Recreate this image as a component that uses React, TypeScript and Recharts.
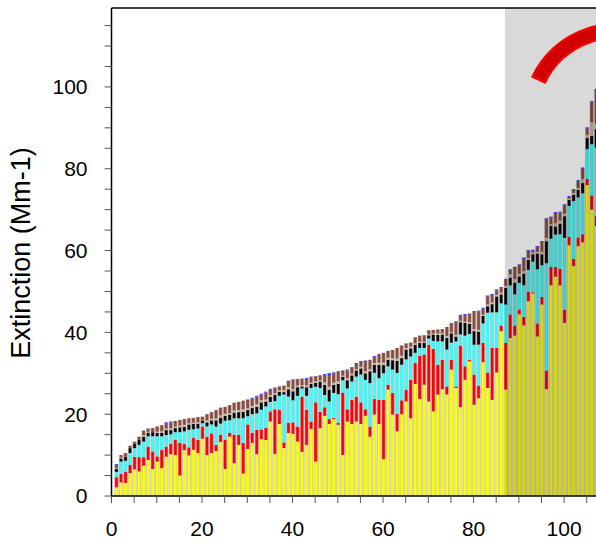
import React from 'react';
import { BarChart, Bar, XAxis, YAxis, ReferenceArea, ReferenceLine } from 'recharts';

// stacked extinction components per sample (Mm-1)
const yellowPart = [
  2.1, 3.3, 3.2, 5.6, 6.5, 6.0, 7.4, 8.8, 6.6, 8.4, 6.8, 9.6, 10.2, 10.0, 5.0, 11.2, 9.9, 11.3, 10.5, 14.0,
  10.0, 10.5, 11.0, 13.2, 6.6, 14.5, 8.0, 12.5, 5.5, 11.5, 13.0, 10.2, 13.9, 13.7, 18.2, 10.3, 17.6, 11.7, 15.4, 15.2,
  13.3, 10.8, 12.5, 16.4, 8.4, 16.6, 19.6, 17.6, 18.8, 17.4, 10.0, 18.2, 17.6, 18.2, 17.6, 19.6, 14.5, 19.9, 17.6, 9.0,
  26.0, 19.9, 15.8, 20.0, 23.1, 19.0, 27.4, 23.7, 27.2, 23.1, 20.7, 24.8, 26.1, 24.8, 30.9, 26.4, 21.7, 28.4, 32.9, 22.3,
  23.9, 32.7, 26.4, 23.5, 30.2, 40.3, 26.0, 38.6, 39.2, 44.4, 41.7, 47.6, 49.5, 39.0, 46.8, 26.1, 51.5, 53.6, 51.5, 42.3,
  61.3, 56.2, 61.1, 62.0, 76.0, 70.0, 66.0,
];
const redPart = [
  2.5, 2.1, 2.8, 2.0, 3.1, 3.5, 2.1, 3.3, 4.3, 1.3, 4.5, 2.5, 2.6, 3.8, 8.0, 1.5, 2.0, 3.0, 3.2, 3.0,
  4.5, 4.8, 1.5, 1.8, 7.2, 1.0, 7.0, 2.5, 7.5, 6.0, 2.5, 6.0, 2.4, 3.0, 2.5, 10.9, 3.5, 1.4, 2.5, 2.8,
  3.7, 13.5, 8.6, 1.8, 14.5, 4.0, 2.1, 1.2, 0.3, 0.5, 15.3, 3.0, 5.9, 6.1, 5.3, 1.6, 2.5, 3.8, 5.9, 14.5,
  1.2, 5.3, 4.3, 3.4, 2.9, 9.4, 5.1, 10.6, 7.4, 13.9, 15.3, 7.3, 7.2, 2.0, 2.4, 0.4, 15.1, 3.3, 0.4, 7.4,
  3.1, 4.7, 3.8, 12.7, 6.0, 1.4, 11.4, 5.8, 2.5, 1.2, 2.1, 2.4, 0.3, 3.2, 1.9, 4.6, 4.5, 2.4, 4.0, 3.3,
  2.1, 1.8, 2.1, 2.0, 1.5, 3.5, 2.5,
];
const cyanPart = [
  1.3, 3.0, 2.6, 2.9, 2.1, 3.0, 3.8, 2.5, 3.7, 4.9, 3.3, 2.8, 2.3, 1.8, 2.6, 3.1, 4.3, 2.0, 2.8, 0.8,
  2.5, 2.2, 4.5, 2.7, 4.6, 3.0, 4.0, 4.0, 6.0, 2.0, 4.5, 4.0, 4.8, 5.2, 2.3, 2.0, 3.4, 11.7, 6.4, 5.4,
  7.5, 2.0, 3.4, 8.2, 3.8, 5.8, 3.0, 4.3, 6.1, 7.0, 3.0, 5.1, 4.5, 4.9, 6.8, 7.2, 10.6, 6.4, 5.3, 6.5,
  4.5, 5.7, 10.0, 8.7, 7.4, 5.7, 2.5, 1.9, 1.6, 1.5, 1.9, 5.7, 4.5, 9.0, 4.2, 11.0, 2.7, 7.5, 6.3, 7.3,
  10.0, 4.8, 14.6, 8.7, 8.7, 5.4, 9.4, 7.1, 7.6, 6.5, 7.7, 5.3, 7.5, 13.2, 7.7, 26.2, 6.9, 7.9, 8.5, 17.5,
  7.5, 14.1, 9.8, 10.0, 7.3, 12.5, 16.7,
];
const blackPart = [
  0.7, 0.8, 1.0, 1.2, 1.1, 1.2, 1.2, 0.9, 1.0, 0.8, 0.9, 1.2, 1.0, 1.0, 1.2, 1.1, 1.3, 1.3, 1.2, 0.6,
  1.0, 1.0, 1.5, 1.5, 1.2, 1.3, 1.4, 1.5, 1.6, 1.5, 1.5, 1.6, 1.8, 1.2, 1.2, 1.5, 1.0, 0.6, 1.8, 2.2,
  2.1, 0.5, 2.1, 1.0, 1.0, 1.5, 2.5, 2.9, 2.0, 2.5, 0.8, 2.0, 1.5, 1.5, 1.5, 1.6, 2.9, 2.0, 3.3, 2.0,
  1.6, 2.3, 2.9, 1.6, 2.4, 2.0, 2.0, 1.2, 1.2, 0.8, 1.6, 1.6, 1.7, 2.9, 2.3, 1.2, 3.0, 3.1, 2.5, 3.3,
  3.2, 1.8, 1.6, 2.0, 3.9, 2.2, 4.1, 1.9, 2.9, 1.6, 2.9, 2.4, 1.8, 3.9, 2.7, 5.4, 3.1, 2.0, 2.6, 5.3,
  1.5, 1.5, 1.8, 2.5, 2.7, 2.0, 4.5,
];
const tanPart = [
  0.2, 0.2, 0, 0, 0, 0, 0.3, 0.2, 0, 0.3, 0.3, 0.4, 0.4, 0.4, 0.4, 0.5, 0.3, 0.3, 0.3, 0,
  0.5, 0.4, 0.5, 0.5, 0.5, 0.4, 0.5, 0.5, 0.6, 0.5, 0.5, 0.6, 0.5, 0.5, 0.5, 0.4, 0.3, 0.5, 0.5, 0.5,
  0.4, 0.3, 0.4, 0.3, 0.3, 0.3, 0.6, 0.7, 0.5, 0.6, 0.3, 0.5, 0.4, 0.3, 0.4, 0.5, 0.5, 0.4, 0.5, 0.6,
  0.5, 0.5, 0.6, 0.6, 0.4, 0.4, 0.3, 0.3, 0.3, 0.2, 0.2, 0.3, 0.3, 0.4, 0.3, 0.4, 0.3, 0.3, 0.4, 0.5,
  0.4, 0.3, 0.4, 0.4, 0.4, 0.4, 0.5, 0.8, 0.8, 0.6, 0.6, 0.5, 0.4, 0.4, 0.6, 0.8, 0.4, 0.8, 0.7, 0.6,
  0.3, 0.5, 0.5, 1.0, 0.8, 3.3, 1.3,
];
const brownPart = [
  0.8, 0.6, 0.9, 0.6, 0.5, 0.8, 1.2, 0.8, 1.0, 1.3, 1.5, 1.3, 1.5, 1.1, 1.4, 1.4, 1.2, 1.2, 1.3, 1.0,
  1.5, 1.6, 2.0, 1.9, 1.7, 2.0, 1.9, 2.0, 2.1, 2.1, 1.8, 1.9, 1.4, 1.7, 1.3, 1.2, 1.0, 1.1, 1.6, 2.2,
  1.6, 1.6, 1.6, 1.5, 1.3, 1.3, 1.8, 2.9, 2.3, 2.5, 1.3, 1.9, 1.6, 1.3, 1.2, 2.3, 2.3, 1.5, 2.1, 2.4,
  1.7, 2.0, 2.6, 2.5, 1.1, 1.0, 1.5, 1.5, 1.6, 1.0, 0.9, 1.0, 1.0, 2.0, 2.2, 3.1, 1.3, 1.7, 2.1, 4.2,
  4.5, 1.5, 2.0, 1.9, 1.1, 1.2, 1.5, 1.0, 2.7, 2.0, 3.0, 1.7, 0.5, 1.2, 2.4, 4.5, 1.7, 2.5, 2.0, 2.1,
  0.4, 0.7, 1.7, 2.5, 1.5, 4.9, 8.1,
];
const bluePart = [
  0.2, 0, 0, 0, 0, 0, 0, 0, 0, 0, 0, 0.2, 0.2, 0.2, 0, 0, 0, 0, 0, 0,
  0, 0, 0, 0, 0, 0, 0, 0, 0, 0, 0.2, 0.2, 0.2, 0.2, 0.2, 0.2, 0, 0, 0, 0.2,
  0, 0, 0.2, 0, 0, 0, 0.2, 0.4, 0.2, 0, 0, 0.2, 0, 0.2, 0.2, 0.3, 0, 0.2, 0, 0,
  0, 0, 0, 0, 0, 0, 0, 0, 0, 0, 0, 0, 0, 0.2, 0, 0.2, 0.2, 0.2, 0, 0.2,
  0.2, 0.2, 0.2, 0.2, 0.2, 0.2, 0.2, 0.2, 0.3, 0.3, 0.3, 0.2, 0.2, 0.2, 0.2, 0.3, 0.2, 0.2, 0.2, 0.2,
  0.2, 0.2, 0.2, 0.3, 0.3, 0.3, 0.4,
];

const xTicks = [0, 5, 10, 15, 20, 25, 30, 35, 40, 45, 50, 55, 60, 65, 70, 75, 80, 85, 90, 95, 100, 105, 110];
const yTicks = [0, 5, 10, 15, 20, 25, 30, 35, 40, 45, 50, 55, 60, 65, 70, 75, 80, 85, 90, 95, 100, 105, 110, 115];
const shadeStart = 86.9;

const data = yellowPart.map((v, i) => ({
  x: i + 1,
  yellow: v,
  red: redPart[i],
  cyan: cyanPart[i],
  black: blackPart[i],
  tan: tanPart[i],
  brown: brownPart[i],
  blue: bluePart[i],
}));

const font = '"Liberation Sans", Arial, Helvetica, sans-serif';
const everyTwenty = (v: number) => (v % 20 === 0 ? String(v) : '');

// segment with thin grey side edges, like the original bars
const Segment = (props: any) => {
  const { x, y, width, height, fill } = props;
  if (!height || height <= 0) return null;
  return (
    <g>
      <rect x={x} y={y} width={width} height={height} fill={fill} />
      <line x1={x} x2={x} y1={y} y2={y + height} stroke="#b4b4b4" strokeWidth={0.6} />
      <line x1={x + width} x2={x + width} y1={y} y2={y + height} stroke="#b4b4b4" strokeWidth={0.6} />
    </g>
  );
};

const YLabel = (props: any) => {
  const vb = props.viewBox || { y: 8, height: 488 };
  const cy = vb.y + vb.height / 2 + 1;
  return (
    <text
      x={21}
      y={cy}
      transform={`rotate(-90, 21, ${cy})`}
      textAnchor="middle"
      dominantBaseline="central"
      fontSize={27}
      fontFamily={font}
      fill="#000"
    >
      Extinction (Mm-1)
    </text>
  );
};

// red arc annotation in the shaded corner
const Arc = () => {
  const cx = 615.5, cy = 116, r = 85;
  const pt = (deg: number) => {
    const a = (deg * Math.PI) / 180;
    return `${cx + r * Math.cos(a)} ${cy + r * Math.sin(a)}`;
  };
  return (
    <svg width={596} height={548} style={{ position: 'absolute', left: 0, top: 0 }}>
      <path d={`M ${pt(204.6)} A ${r} ${r} 0 0 1 ${pt(300)}`} stroke="#ff0000" strokeWidth={16} fill="none" />
      <path d={`M ${pt(206)} A ${r} ${r} 0 0 1 ${pt(300)}`} stroke="#d00000" strokeWidth={12} fill="none" />
    </svg>
  );
};

const barSize = 3.4;

export default function App() {
  return (
    <div style={{ position: 'fixed', left: 0, top: 0, width: 596, height: 548, overflow: 'hidden', background: '#fff' }}>
      <BarChart width={632} height={548} data={data} margin={{ top: 8, right: 0, bottom: 0, left: 0 }}>
        <XAxis
          dataKey="x"
          type="number"
          domain={[0, 115]}
          ticks={xTicks}
          tickFormatter={everyTwenty}
          interval={0}
          allowDataOverflow
          height={52}
          stroke="#000"
          strokeWidth={1.5}
          tickSize={7}
          tickMargin={18}
          tickLine={{ stroke: '#555', strokeWidth: 1 }}
          tick={{ fill: '#000', fontSize: 21, fontFamily: font }}
        />
        <YAxis
          type="number"
          domain={[0, 119.3]}
          ticks={yTicks}
          tickFormatter={everyTwenty}
          interval={0}
          allowDataOverflow
          width={111.5}
          stroke="#000"
          strokeWidth={1.5}
          tickSize={7}
          tickMargin={17}
          tickLine={{ stroke: '#555', strokeWidth: 1 }}
          tick={{ fill: '#000', fontSize: 21, fontFamily: font }}
          label={<YLabel />}
        />
        <Bar dataKey="yellow" stackId="a" fill="#ffff00" barSize={barSize} shape={<Segment />} isAnimationActive={false} />
        <Bar dataKey="red" stackId="a" fill="#ff0000" barSize={barSize} shape={<Segment />} isAnimationActive={false} />
        <Bar dataKey="cyan" stackId="a" fill="#33ffff" barSize={barSize} shape={<Segment />} isAnimationActive={false} />
        <Bar dataKey="black" stackId="a" fill="#000000" barSize={barSize} shape={<Segment />} isAnimationActive={false} />
        <Bar dataKey="tan" stackId="a" fill="#c8b49e" barSize={barSize} shape={<Segment />} isAnimationActive={false} />
        <Bar dataKey="brown" stackId="a" fill="#8b4a3c" barSize={barSize} shape={<Segment />} isAnimationActive={false} />
        <Bar dataKey="blue" stackId="a" fill="#1a1aff" barSize={barSize} shape={<Segment />} isAnimationActive={false} />
        <ReferenceArea
          x1={shadeStart}
          x2={115}
          y1={0}
          y2={119.3}
          fill="#000"
          fillOpacity={0.15}
          stroke="none"
          ifOverflow="visible"
          zIndex={350}
        />
        <ReferenceLine y={119.3} stroke="#000" strokeWidth={1.5} ifOverflow="visible" />
      </BarChart>
      <Arc />
    </div>
  );
}
